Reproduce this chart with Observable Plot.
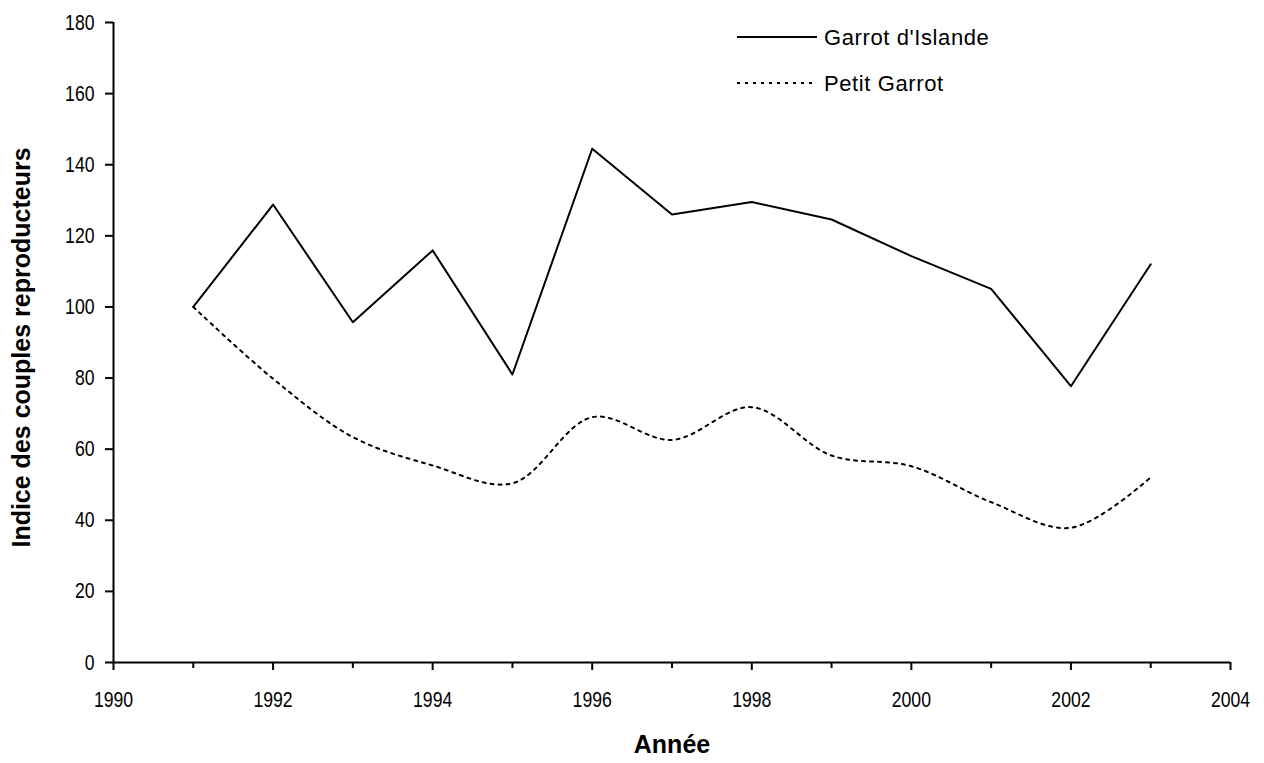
<!DOCTYPE html>
<html><head><meta charset="utf-8">
<script src="https://cdn.jsdelivr.net/npm/d3@7"></script>
<script src="https://cdn.jsdelivr.net/npm/@observablehq/plot@0.6"></script>
<style>
body{margin:0;background:#fff;}
#wrap{position:relative;width:1264px;height:763px;overflow:hidden;}
#legend{position:absolute;left:0;top:0;}
</style></head><body><div id="wrap"></div>
<script>
const years = [1991,1992,1993,1994,1995,1996,1997,1998,1999,2000,2001,2002,2003];
const garrotIslande = [100,128.8,95.7,115.9,81.0,144.5,126.0,129.5,124.6,114.3,105.1,77.7,112.0];
const petitGarrot = [100,79.8,63.4,55.4,50.4,69.0,62.6,71.8,58.2,55.2,45.1,37.9,52.1];
const seriesNames = ["Garrot d'Islande", "Petit Garrot"];
const yTicks = [0,20,40,60,80,100,120,140,160,180];
const xMajorTicks = [1990,1992,1994,1996,1998,2000,2002,2004];
const xMinorTicks = [1991,1993,1995,1997,1999,2001,2003];
const xTitle = "Année";
const yTitle = "Indice des couples reproducteurs";

const font = "'Liberation Sans',Arial,sans-serif";

const dataI = years.map((y,i)=>({year:y, value:garrotIslande[i]}));
const dataP = years.map((y,i)=>({year:y, value:petitGarrot[i]}));

const chart = Plot.plot({
  width:1264, height:763,
  marginLeft:113, marginRight:34, marginTop:22, marginBottom:101,
  x:{domain:[1990,2004]},
  y:{domain:[0,180]},
  style:{fontFamily:font, background:"white", color:"black"},
  marks:[
    Plot.axisY({ticks:yTicks, tickSize:8, tickPadding:11, tickFormat:d=>String(d), fontSize:22, strokeWidth:2, label:null, className:"ntick"}),
    Plot.axisX({ticks:xMajorTicks, tickSize:8, tickPadding:21, tickFormat:d=>String(d), fontSize:22, strokeWidth:2, label:null, className:"ntick"}),
    Plot.axisX({ticks:xMinorTicks, tickSize:6, tickFormat:()=>"", strokeWidth:2, label:null}),
    Plot.ruleX([1990], {stroke:"black", strokeWidth:2}),
    Plot.ruleY([0], {stroke:"black", strokeWidth:2}),
    Plot.line(dataI, {x:"year", y:"value", stroke:"black", strokeWidth:2}),
    Plot.line(dataP, {x:"year", y:"value", stroke:"black", strokeWidth:2, strokeDasharray:"3,5", curve:"catmull-rom"}),
    Plot.text([yTitle], {frameAnchor:"left", textAnchor:"middle", rotate:-90, dx:-92, dy:5, fontSize:25, fontWeight:"bold"}),
    Plot.text([xTitle], {frameAnchor:"bottom", dy:90, fontSize:25, fontWeight:"bold"})
  ]
});
const wrap = document.getElementById("wrap");
wrap.appendChild(chart);

// condense tick labels (reference uses a narrow face)
chart.querySelectorAll("g.ntick text, [aria-label='y-axis tick label'] text, [aria-label='x-axis tick label'] text").forEach(t=>{
  const len = t.getComputedTextLength();
  if (len > 0) { t.setAttribute("textLength", (len*0.8).toFixed(1)); t.setAttribute("lengthAdjust","spacingAndGlyphs"); }
});

// legend
const leg = d3.select(wrap).append("svg").attr("id","legend").attr("width",1264).attr("height",120);
const rows = [{name:seriesNames[0], dash:null, y:37},{name:seriesNames[1], dash:"3,5", y:83}];
rows.forEach(r=>{
  leg.append("line").attr("x1",737).attr("x2",817).attr("y1",r.y).attr("y2",r.y)
    .attr("stroke","black").attr("stroke-width",2).attr("stroke-dasharray",r.dash);
  leg.append("text").attr("x",824).attr("y",r.y).attr("dy","0.35em")
    .attr("font-family",font).attr("font-size",22).attr("letter-spacing","0.6px").text(r.name);
});
</script></body></html>
